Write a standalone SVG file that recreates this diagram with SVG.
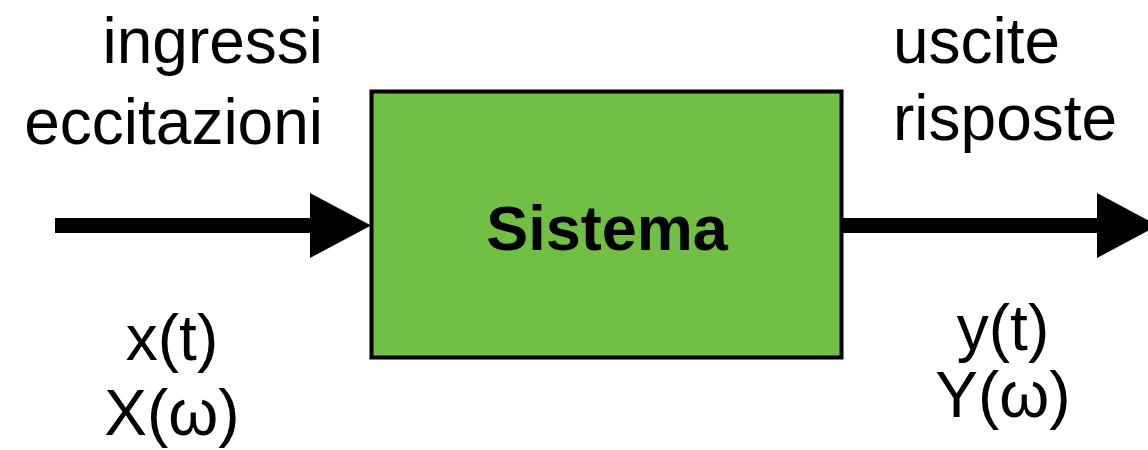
<svg xmlns="http://www.w3.org/2000/svg" width="1148" height="450" viewBox="0 0 1148 450">
<style>
.lbl{font-family:"Liberation Sans",Arial,sans-serif;font-size:64px;fill:#000}
.title{font-family:"Liberation Sans",Arial,sans-serif;font-size:63px;font-weight:bold;fill:#000}
.shaft{stroke:#000;stroke-width:15;fill:none}
.head{fill:#000}
</style>
<rect width="1148" height="450" fill="#fff"/>
<g id="connectors">
<line class="shaft" x1="55" y1="225.5" x2="312" y2="225.5"/>
<polygon class="head" points="310,193 371,225.5 310,258"/>
<line class="shaft" x1="843" y1="225.5" x2="1100" y2="225.5"/>
<polygon class="head" points="1097,193 1158,225.5 1097,258"/>
</g>
<g id="sistema">
<rect x="371.5" y="91.5" width="470" height="266" fill="#71BF44" stroke="#000" stroke-width="4"/>
<text class="title" x="607" y="250" text-anchor="middle">Sistema</text>
</g>
<g id="input-labels">
<text class="lbl" x="323" y="63" text-anchor="end">ingressi</text>
<text class="lbl" x="323" y="144" text-anchor="end">eccitazioni</text>
<text class="lbl" x="172" y="360" text-anchor="middle">x(t)</text>
<text class="lbl" x="172" y="435" text-anchor="middle">X(ω)</text>
</g>
<g id="output-labels">
<text class="lbl" x="893" y="63">uscite</text>
<text class="lbl" x="893" y="140">risposte</text>
<text class="lbl" x="1003" y="350" text-anchor="middle">y(t)</text>
<text class="lbl" x="1003" y="417" text-anchor="middle">Y(ω)</text>
</g>
</svg>
